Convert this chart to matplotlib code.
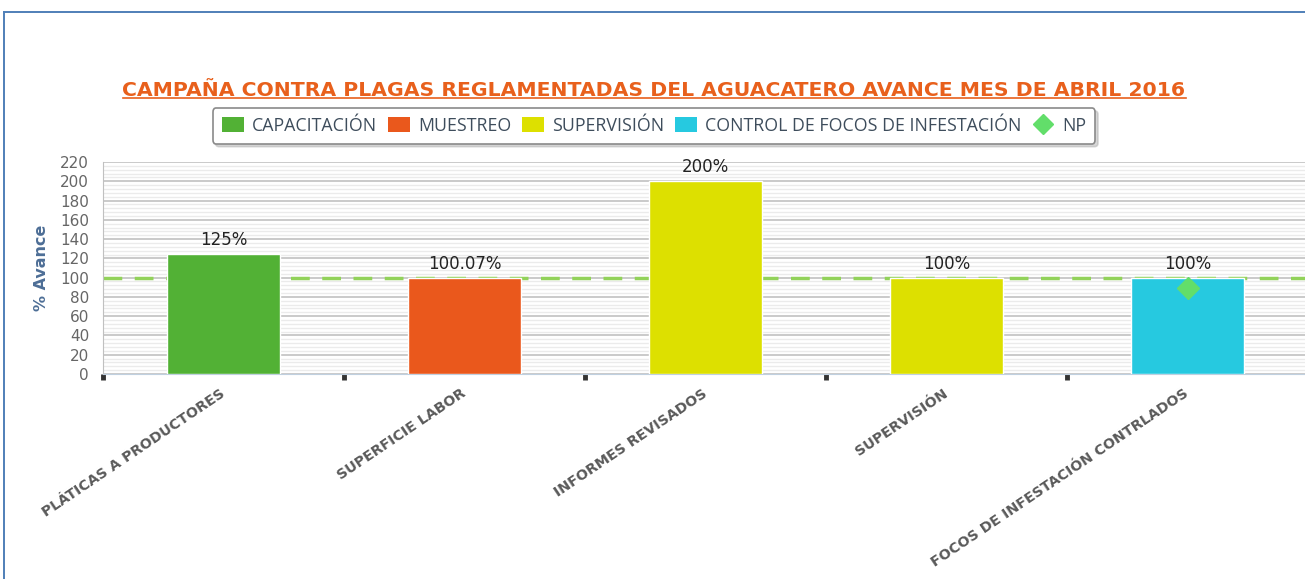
import matplotlib
matplotlib.use('Agg')
import matplotlib.pyplot as plt
from matplotlib.patches import Patch
from matplotlib.lines import Line2D
from matplotlib.ticker import MultipleLocator, FixedLocator, NullFormatter

# data
categories = ['PLÁTICAS A PRODUCTORES', 'SUPERFICIE LABOR', 'INFORMES REVISADOS',
              'SUPERVISIÓN', 'FOCOS DE INFESTACIÓN CONTRLADOS']
values = [125, 100.07, 200, 100, 100]
value_labels = ['125%', '100.07%', '200%', '100%', '100%']
series = ['CAPACITACIÓN', 'MUESTREO', 'SUPERVISIÓN', 'SUPERVISIÓN', 'CONTROL DE FOCOS DE INFESTACIÓN']
legend_names = ['CAPACITACIÓN', 'MUESTREO', 'SUPERVISIÓN', 'CONTROL DE FOCOS DE INFESTACIÓN']
series_colors = {'CAPACITACIÓN': '#52b135', 'MUESTREO': '#ea581c',
                 'SUPERVISIÓN': '#dde000', 'CONTROL DE FOCOS DE INFESTACIÓN': '#26c9e0'}
target = 100
np_x = 4
np_value = 89

title = 'CAMPAÑA CONTRA PLAGAS REGLAMENTADAS DEL AGUACATERO AVANCE MES DE ABRIL 2016'

W, H = 1305, 579
fig = plt.figure(figsize=(W / 100, H / 100), dpi=100)

# outer document frame
fig.add_artist(Line2D([4 / W, 4 / W], [0, 1 - 12 / H], color='#4f7fb8', lw=1.4))
fig.add_artist(Line2D([4 / W, 1], [1 - 12 / H, 1 - 12 / H], color='#4f7fb8', lw=1.4))

ax = fig.add_axes([103 / W, (H - 374) / H, 1205 / W, 212 / H])

x = list(range(len(categories)))
colors = [series_colors[s] for s in series]
ax.bar(x, values, width=0.47, color=colors, edgecolor='white', linewidth=1, zorder=3)

# target line
ax.axhline(target, color='#92d25a', lw=2.5, dashes=(5.4, 3.6), zorder=2)

# NP marker
ax.plot([np_x], [np_value], marker='D', markersize=11, color='#62de6a', zorder=5, linestyle='none')

for xi, v, lab in zip(x, values, value_labels):
    ax.text(xi, v + 5, lab, ha='center', va='bottom', fontsize=12, color='#222222', zorder=6)

ax.set_xlim(-0.5, 4.5)
ax.set_ylim(0, 220)
ax.yaxis.set_major_locator(MultipleLocator(20))
ax.yaxis.set_minor_locator(MultipleLocator(4))
ax.grid(True, which='major', axis='y', color='#c6c6c6', lw=1.3, zorder=0)
ax.grid(True, which='minor', axis='y', color='#ebebeb', lw=1.0, zorder=0)
ax.set_axisbelow(True)

ax.tick_params(axis='y', which='both', length=0, labelsize=11, labelcolor='#666666', pad=10)
ax.xaxis.set_major_locator(FixedLocator([-0.5, 0.5, 1.5, 2.5, 3.5, 4.5]))
ax.xaxis.set_major_formatter(NullFormatter())
ax.tick_params(axis='x', which='major', length=4, width=3.5, color='#333333', direction='out')

for xi, c in zip(x, categories):
    ax.annotate(c, xy=(xi, 0), xycoords=('data', 'axes fraction'), xytext=(0, -13),
                textcoords='offset points', rotation=34, rotation_mode='anchor',
                ha='right', va='center', fontsize=10.3, fontweight='bold', color='#5a5a5a')

for s in ['top', 'right']:
    ax.spines[s].set_visible(False)
ax.spines['left'].set_color('#c0c0c0')
ax.spines['bottom'].set_color('#c0d0e0')

ax.set_ylabel('% Avance', fontsize=11.5, fontweight='bold', color='#4d6e96', labelpad=8)

# title with underline
t = fig.text(654 / W, 1 - 91 / H, title, ha='center', va='center', fontsize=14,
             fontweight='bold', color='#e8601c')
fig.canvas.draw()
bb = t.get_window_extent()
t.set_fontsize(14 * 1066 / bb.width)
fig.canvas.draw()
bb = t.get_window_extent()
fig.add_artist(Line2D([bb.x0 / W, bb.x1 / W], [(bb.y0 + 3) / H, (bb.y0 + 3) / H],
                      color='#e8601c', lw=1.2))

handles = [Patch(facecolor=series_colors[n], edgecolor='none') for n in legend_names]
handles.append(Line2D([], [], marker='D', color='#62de6a', linestyle='none', markersize=10))
labels = legend_names + ['NP']
leg = fig.legend(handles, labels, loc='center', bbox_to_anchor=(654 / W, 1 - 126 / H), ncol=5,
                 frameon=True, fancybox=True, shadow={'color': '#b0b0b0', 'alpha': 0.5},
                 prop={'family': 'Open Sans', 'size': 12.8},
                 handlelength=1.25, handleheight=0.9, handletextpad=0.45, columnspacing=0.6,
                 borderpad=0.5, labelcolor='#3e4d5c')
leg.get_frame().set_edgecolor('#8a8a8a')
leg.get_frame().set_linewidth(1.2)

fig.savefig('out.png', dpi=100)
